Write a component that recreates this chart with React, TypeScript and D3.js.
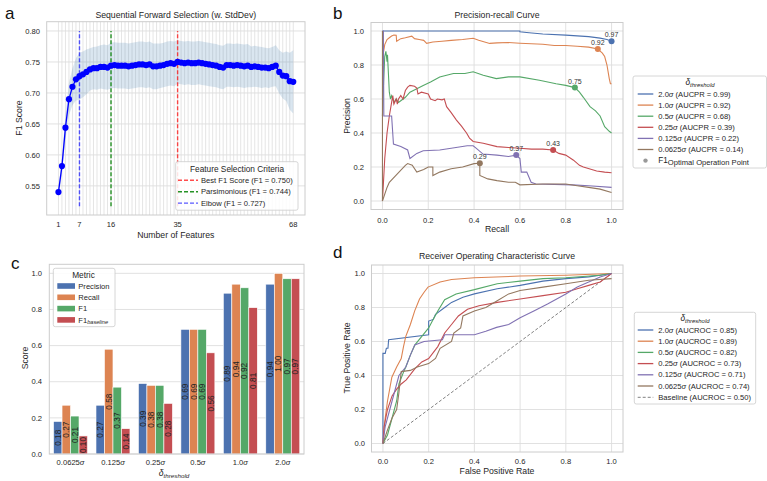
import React from 'react';
import * as d3 from 'd3';

const FONT = "'Liberation Sans', Arial, sans-serif";
const TXT = '#262626';
const GRID = '#dedede';
const FRAME = '#cccccc';

// ---- panel a: sequential forward selection
const f1Mean = [
  0.540, 0.582, 0.644, 0.690, 0.710, 0.722, 0.727, 0.730, 0.734, 0.738,
  0.740, 0.740, 0.742, 0.742, 0.741, 0.744, 0.745, 0.744, 0.744, 0.744,
  0.743, 0.744, 0.745, 0.746, 0.746, 0.745, 0.746, 0.743, 0.743, 0.744,
  0.745, 0.747, 0.748, 0.747, 0.750, 0.749, 0.748, 0.749, 0.748, 0.748,
  0.749, 0.748, 0.747, 0.746, 0.745, 0.744, 0.742, 0.741, 0.745, 0.745,
  0.744, 0.745, 0.744, 0.743, 0.744, 0.742, 0.743, 0.742, 0.741, 0.741,
  0.740, 0.742, 0.744, 0.734, 0.728, 0.727, 0.719, 0.718,
];
const f1Std = [
  0.008, 0.012, 0.020, 0.026, 0.030, 0.034, 0.038, 0.037, 0.036, 0.034,
  0.034, 0.035, 0.035, 0.036, 0.036, 0.037, 0.037, 0.037, 0.037, 0.037,
  0.037, 0.037, 0.037, 0.037, 0.037, 0.037, 0.037, 0.037, 0.037, 0.036,
  0.036, 0.036, 0.036, 0.036, 0.035, 0.035, 0.035, 0.035, 0.035, 0.035,
  0.035, 0.035, 0.035, 0.035, 0.035, 0.035, 0.035, 0.035, 0.035, 0.035,
  0.035, 0.035, 0.035, 0.035, 0.035, 0.033, 0.033, 0.033, 0.033, 0.032,
  0.032, 0.032, 0.033, 0.035, 0.037, 0.040, 0.046, 0.051,
];
const featureTicks = [1, 7, 16, 35, 68];
const f1Ticks = [0.55, 0.6, 0.65, 0.7, 0.75, 0.8];
const criteriaLabels = ['Best F1 Score (F1 = 0.750)', 'Parsimonious (F1 = 0.744)', 'Elbow (F1 = 0.727)'];
const criteriaK = [35, 16, 7];
const criteriaColors = ['rgba(255,0,0,0.7)', 'rgba(0,128,0,0.85)', 'rgba(0,0,255,0.65)'];

// ---- shared thresholds
const thresholds = ['2.0', '1.0', '0.5', '0.25', '0.125', '0.0625'];
const palette = ['#4C72B0', '#DD8452', '#55A868', '#C44E52', '#8172B3', '#937860'];
const aucpr = [0.99, 0.92, 0.68, 0.39, 0.22, 0.14];
const aucroc = [0.85, 0.89, 0.82, 0.73, 0.71, 0.74];

// ---- panel b: precision-recall curves [recall, precision]
const pr20 = [[0, 1], [0.6, 1], [0.6, 0.995], [0.64, 0.99], [0.7, 0.982], [0.8, 0.976], [0.9, 0.967], [0.95, 0.958], [0.98, 0.95], [1.0, 0.94]];
const pr10 = [[0, 0.86], [0.005, 0.88], [0.01, 0.92], [0.02, 0.95], [0.03, 0.96], [0.04, 0.97], [0.05, 0.976], [0.06, 0.975], [0.062, 0.94], [0.08, 0.955], [0.1, 0.96], [0.128, 0.97], [0.14, 0.955], [0.16, 0.95], [0.18, 0.945], [0.193, 0.927], [0.22, 0.935], [0.26, 0.94], [0.3, 0.945], [0.35, 0.95], [0.396, 0.957], [0.42, 0.945], [0.468, 0.927], [0.5, 0.93], [0.55, 0.932], [0.6, 0.928], [0.65, 0.925], [0.7, 0.922], [0.75, 0.915], [0.8, 0.915], [0.85, 0.91], [0.9, 0.905], [0.94, 0.894], [0.96, 0.87], [0.97, 0.85], [0.98, 0.8], [0.99, 0.72], [0.995, 0.69], [1.0, 0.69]];
const pr05 = [[0, 0.5], [0.005, 0.7], [0.01, 0.85], [0.015, 0.88], [0.02, 0.82], [0.022, 0.86], [0.026, 0.75], [0.03, 0.64], [0.035, 0.6], [0.04, 0.62], [0.05, 0.58], [0.06, 0.6], [0.07, 0.58], [0.08, 0.59], [0.1, 0.61], [0.12, 0.64], [0.15, 0.66], [0.178, 0.68], [0.21, 0.7], [0.25, 0.73], [0.31, 0.75], [0.36, 0.75], [0.396, 0.76], [0.44, 0.74], [0.497, 0.72], [0.55, 0.73], [0.6, 0.73], [0.685, 0.71], [0.758, 0.69], [0.8, 0.68], [0.84, 0.667], [0.86, 0.64], [0.877, 0.61], [0.906, 0.555], [0.93, 0.53], [0.95, 0.5], [0.97, 0.437], [0.99, 0.41], [1.0, 0.4]];
const pr025 = [[0, 0], [0.01, 0.25], [0.02, 0.4], [0.03, 0.5], [0.04, 0.58], [0.045, 0.62], [0.05, 0.57], [0.06, 0.6], [0.065, 0.57], [0.07, 0.6], [0.08, 0.62], [0.09, 0.6], [0.1, 0.65], [0.11, 0.67], [0.12, 0.68], [0.14, 0.675], [0.15, 0.665], [0.155, 0.63], [0.17, 0.64], [0.2, 0.63], [0.21, 0.6], [0.23, 0.59], [0.24, 0.6], [0.26, 0.595], [0.27, 0.6], [0.28, 0.555], [0.3, 0.52], [0.323, 0.476], [0.345, 0.44], [0.367, 0.4], [0.38, 0.37], [0.396, 0.35], [0.44, 0.34], [0.5, 0.32], [0.55, 0.315], [0.6, 0.31], [0.65, 0.305], [0.7, 0.305], [0.745, 0.3], [0.77, 0.28], [0.8, 0.27], [0.834, 0.24], [0.86, 0.21], [0.877, 0.2], [0.935, 0.176], [0.97, 0.17], [1.0, 0.166]];
const pr0125 = [[0, 1], [0.004, 1], [0.006, 0.5], [0.04, 0.5], [0.048, 0.335], [0.08, 0.32], [0.11, 0.3], [0.12, 0.25], [0.15, 0.28], [0.178, 0.296], [0.25, 0.3], [0.3, 0.31], [0.37, 0.325], [0.396, 0.325], [0.41, 0.31], [0.439, 0.276], [0.5, 0.27], [0.55, 0.262], [0.584, 0.27], [0.6, 0.25], [0.606, 0.17], [0.63, 0.17], [0.649, 0.11], [0.67, 0.1], [0.83, 0.095], [0.9, 0.09], [1.0, 0.08]];
const pr00625 = [[0, 1], [0, 0], [0.02, 0.08], [0.03, 0.11], [0.065, 0.16], [0.1, 0.21], [0.11, 0.22], [0.13, 0.21], [0.15, 0.17], [0.18, 0.185], [0.2, 0.2], [0.22, 0.2], [0.22, 0.15], [0.25, 0.17], [0.3, 0.19], [0.35, 0.2], [0.4, 0.22], [0.425, 0.222], [0.425, 0.15], [0.46, 0.13], [0.5, 0.12], [0.55, 0.11], [0.58, 0.11], [0.6, 0.095], [0.7, 0.1], [0.8, 0.1], [0.85, 0.09], [0.9, 0.08], [0.95, 0.07], [1.0, 0.05]];
const prCurves = [pr20, pr10, pr05, pr025, pr0125, pr00625];
const optRecall = [1.0, 0.94, 0.84, 0.745, 0.584, 0.425];
const optPrecision = [0.94, 0.894, 0.667, 0.3, 0.27, 0.222];
const optF1 = ['0.97', '0.92', '0.75', '0.43', '0.37', '0.29'];

// ---- panel c: metrics per threshold
const barCats = ['0.0625', '0.125', '0.25', '0.5', '1.0', '2.0'];
const metrics = ['Precision', 'Recall', 'F1', 'F1b'];
const precisionVals = [0.18, 0.27, 0.39, 0.69, 0.89, 0.94];
const recallVals = [0.27, 0.58, 0.38, 0.69, 0.94, 1.0];
const f1Vals = [0.21, 0.37, 0.38, 0.69, 0.92, 0.97];
const f1BaseVals = [0.10, 0.14, 0.28, 0.56, 0.81, 0.97];
const scoreTicks = [0, 0.2, 0.4, 0.6, 0.8, 1.0];

// ---- panel d: ROC curves [fpr, tpr]
const roc20 = [[0, 0], [0, 0.53], [0.01, 0.53], [0.015, 0.56], [0.022, 0.56], [0.025, 0.61], [0.2, 0.64], [0.2, 0.72], [0.22, 0.73], [0.23, 0.76], [0.27, 0.8], [0.3, 0.83], [0.35, 0.86], [0.4, 0.88], [0.5, 0.91], [0.6, 0.93], [0.7, 0.955], [0.8, 0.97], [0.9, 0.98], [1.0, 1.0]];
const roc10 = [[0, 0], [0.01, 0.15], [0.02, 0.25], [0.039, 0.39], [0.06, 0.45], [0.08, 0.5], [0.09, 0.57], [0.1, 0.63], [0.12, 0.7], [0.139, 0.78], [0.16, 0.85], [0.18, 0.89], [0.197, 0.92], [0.25, 0.95], [0.3, 0.965], [0.4, 0.975], [0.6, 0.985], [0.8, 0.99], [1.0, 1.0]];
const roc05 = [[0, 0], [0.02, 0.05], [0.04, 0.15], [0.06, 0.25], [0.07, 0.35], [0.09, 0.42], [0.1, 0.45], [0.12, 0.52], [0.14, 0.58], [0.17, 0.63], [0.2, 0.68], [0.219, 0.728], [0.24, 0.78], [0.27, 0.846], [0.32, 0.88], [0.4, 0.905], [0.5, 0.94], [0.6, 0.955], [0.7, 0.97], [0.8, 0.975], [0.95, 0.99], [1.0, 1.0]];
const roc025 = [[0, 0], [0.005, 0.1], [0.02, 0.2], [0.04, 0.28], [0.06, 0.32], [0.08, 0.35], [0.102, 0.374], [0.14, 0.44], [0.17, 0.48], [0.2, 0.5], [0.24, 0.57], [0.27, 0.65], [0.3, 0.7], [0.33, 0.75], [0.37, 0.79], [0.42, 0.81], [0.5, 0.83], [0.6, 0.85], [0.7, 0.87], [0.8, 0.89], [0.85, 0.91], [0.9, 0.93], [0.95, 0.95], [1.0, 1.0]];
const roc0125 = [[0, 0], [0.01, 0.1], [0.03, 0.2], [0.05, 0.3], [0.07, 0.4], [0.1, 0.45], [0.12, 0.52], [0.139, 0.58], [0.18, 0.6], [0.26, 0.61], [0.27, 0.64], [0.4, 0.64], [0.45, 0.66], [0.497, 0.683], [0.55, 0.7], [0.6, 0.74], [0.66, 0.78], [0.72, 0.82], [0.8, 0.88], [0.85, 0.92], [0.9, 0.95], [0.95, 0.98], [1.0, 1.0]];
const roc00625 = [[0, 0], [0.02, 0.08], [0.04, 0.15], [0.06, 0.2], [0.07, 0.3], [0.08, 0.423], [0.12, 0.43], [0.15, 0.45], [0.2, 0.47], [0.23, 0.5], [0.25, 0.56], [0.3, 0.6], [0.31, 0.65], [0.34, 0.68], [0.35, 0.75], [0.4, 0.78], [0.45, 0.8], [0.5, 0.84], [0.55, 0.88], [0.6, 0.9], [0.7, 0.92], [0.8, 0.94], [0.9, 0.96], [1.0, 0.97]];
const rocCurves = [roc20, roc10, roc05, roc025, roc0125, roc00625];
const unitTicks = [0, 0.2, 0.4, 0.6, 0.8, 1.0];

const Sig = ({ pre, post = '' }: { pre: string; post?: string }) => (
  <>
    {pre}
    <tspan fontStyle="italic">σ</tspan>
    {post}
  </>
);

const DeltaThr = ({ size }: { size: number }) => (
  <>
    <tspan fontStyle="italic" fontSize={size}>δ</tspan>
    <tspan fontStyle="italic" fontSize={size * 0.72} dy={2}>threshold</tspan>
  </>
);

const Frame = ({ x0, x1, y0, y1 }) => (
  <rect x={x0} y={y0} width={x1 - x0} height={y1 - y0} fill="none" stroke={FRAME} strokeWidth={1} />
);

export default function App() {
  // scales
  const xA = d3.scaleLinear().domain([-2.35, 71.35]).range([46.7, 305]);
  const yA = d3.scaleLinear().domain([0.503, 0.815]).range([215, 21.7]);
  const xB = d3.scaleLinear().domain([-0.05, 1.05]).range([371, 623]);
  const yB = d3.scaleLinear().domain([-0.05, 1.05]).range([209.5, 22.5]);
  const xC = d3.scaleBand().domain(barCats).range([49.3, 304]);
  const yC = d3.scaleLinear().domain([0, 1.05]).range([454, 264.3]);
  const xSub = d3.scaleBand().domain(metrics).range([0, xC.bandwidth() * 0.8]);
  const xD = d3.scaleLinear().domain([-0.05, 1.05]).range([371.5, 623]);
  const yD = d3.scaleLinear().domain([-0.05, 1.05]).range([452, 265]);

  const features = d3.range(1, 69);
  const lineA = d3.line<number>().x((k) => xA(k)).y((k) => yA(f1Mean[k - 1]));
  const bandA = d3.area<number>().x((k) => xA(k))
    .y0((k) => yA(f1Mean[k - 1] - f1Std[k - 1]))
    .y1((k) => yA(f1Mean[k - 1] + f1Std[k - 1]));
  const lineB = d3.line<number[]>().x((d) => xB(d[0])).y((d) => yB(d[1]));
  const lineD = d3.line<number[]>().x((d) => xD(d[0])).y((d) => yD(d[1]));
  const barSeries = [precisionVals, recallVals, f1Vals, f1BaseVals];
  const barColors = palette.slice(0, 4);

  const tick = { fontSize: 7.6, fill: TXT };
  const lab = { fontSize: 8.7, fill: TXT };

  return (
    <svg width={767} height={481} style={{ position: 'absolute', left: 0, top: 0, background: '#fff' }}
      fontFamily={FONT}>
      {/* ================= panel a ================= */}
      <text x={5} y={18.5} fontSize={17} fill="#111">a</text>
      <g>
        {features.map((k) => (
          <line key={k} x1={xA(k)} x2={xA(k)} y1={21.7} y2={215} stroke={GRID} strokeWidth={0.8} />
        ))}
        {f1Ticks.map((t) => (
          <line key={t} x1={46.7} x2={305} y1={yA(t)} y2={yA(t)} stroke={GRID} strokeWidth={0.9} />
        ))}
        <path d={bandA(features)} fill="#4682b4" fillOpacity={0.2} />
        {criteriaK.map((k, i) => (
          <line key={k} x1={xA(k)} x2={xA(k)} y1={yA(0.517)} y2={yA(0.8)} stroke={criteriaColors[i]}
            strokeWidth={1.4} strokeDasharray="4,2" />
        ))}
        <path d={lineA(features)} fill="none" stroke="#0000ff" strokeWidth={1.3} />
        {features.map((k) => (
          <circle key={k} cx={xA(k)} cy={yA(f1Mean[k - 1])} r={3.1} fill="#0000ff" />
        ))}
        <Frame x0={46.7} x1={305} y0={21.7} y1={215} />
        {f1Ticks.map((t) => (
          <text key={t} x={40} y={yA(t)} dy="0.35em" textAnchor="end" {...tick}>{t.toFixed(2)}</text>
        ))}
        {featureTicks.map((t) => (
          <text key={t} x={xA(t)} y={226.5} textAnchor="middle" {...tick}>{t}</text>
        ))}
        <text x={175.8} y={17.8} textAnchor="middle" {...lab}>Sequential Forward Selection (w. StdDev)</text>
        <text x={175.8} y={237.5} textAnchor="middle" {...lab}>Number of Features</text>
        <text transform="translate(18.5,118) rotate(-90)" textAnchor="middle" dy="0.35em" {...lab}>F1 Score</text>
        {/* legend */}
        <rect x={175.7} y={161.7} width={122.3} height={48.5} rx={2} fill="#fff" fillOpacity={0.85} stroke={FRAME} strokeWidth={0.8} />
        <text x={237} y={169} dy="0.35em" textAnchor="middle" fontSize={8.3} fill={TXT}>Feature Selection Criteria</text>
        {criteriaLabels.map((l, i) => (
          <g key={l}>
            <line x1={178} x2={198} y1={180.3 + i * 11.4} y2={180.3 + i * 11.4} stroke={criteriaColors[i]} strokeWidth={1.4} strokeDasharray="4,2" />
            <text x={201} y={180.3 + i * 11.4} dy="0.35em" {...tick}>{l}</text>
          </g>
        ))}
      </g>

      {/* ================= panel b ================= */}
      <text x={333} y={18.5} fontSize={17} fill="#111">b</text>
      <g>
        {unitTicks.map((t) => (
          <g key={t}>
            <line x1={xB(t)} x2={xB(t)} y1={22.5} y2={209.5} stroke={GRID} strokeWidth={0.9} />
            <line x1={371} x2={623} y1={yB(t)} y2={yB(t)} stroke={GRID} strokeWidth={0.9} />
          </g>
        ))}
        {prCurves.map((c, i) => (
          <path key={i} d={lineB(c)} fill="none" stroke={palette[i]} strokeWidth={1.1} />
        ))}
        {optRecall.map((r, i) => (
          <g key={i}>
            <circle cx={xB(r)} cy={yB(optPrecision[i])} r={3} fill={palette[i]} />
            <text x={xB(r)} y={yB(optPrecision[i]) - 3.8} textAnchor="middle" fontSize={7} fill="#333">{optF1[i]}</text>
          </g>
        ))}
        <Frame x0={371} x1={623} y0={22.5} y1={209.5} />
        {unitTicks.map((t) => (
          <g key={t}>
            <text x={364} y={yB(t)} dy="0.35em" textAnchor="end" {...tick}>{t.toFixed(1)}</text>
            <text x={xB(t)} y={222.5} textAnchor="middle" {...tick}>{t.toFixed(1)}</text>
          </g>
        ))}
        <text x={497} y={18} textAnchor="middle" {...lab}>Precision-recall Curve</text>
        <text x={497} y={231.5} textAnchor="middle" {...lab}>Recall</text>
        <text transform="translate(347.3,116) rotate(-90)" textAnchor="middle" dy="0.35em" {...lab}>Precision</text>
        {/* legend */}
        <rect x={633} y={76} width={133.5} height={92} rx={2} fill="#fff" stroke={FRAME} strokeWidth={0.8} />
        <text x={700} y={84.5} textAnchor="middle" fill={TXT}><DeltaThr size={8.3} /></text>
        {thresholds.map((t, i) => (
          <g key={t}>
            <line x1={637.7} x2={653.3} y1={94 + i * 11.1} y2={94 + i * 11.1} stroke={palette[i]} strokeWidth={1.3} />
            <text x={658.3} y={94 + i * 11.1} dy="0.35em" {...tick}>
              <Sig pre={t} post={` (AUCPR = ${aucpr[i].toFixed(2)})`} />
            </text>
          </g>
        ))}
        <circle cx={645.5} cy={160.6} r={2.2} fill="#999" />
        <text x={658.3} y={160.6} dy="0.35em" {...tick}>
          <tspan fontSize={8.2}>F1</tspan>
          <tspan dy={1.6}>Optimal Operation Point</tspan>
        </text>
      </g>

      {/* ================= panel c ================= */}
      <text x={11} y={269} fontSize={17} fill="#111">c</text>
      <g>
        {scoreTicks.map((t) => (
          <line key={t} x1={49.3} x2={304} y1={yC(t)} y2={yC(t)} stroke={GRID} strokeWidth={0.9} />
        ))}
        {barCats.map((c, ci) =>
          metrics.map((m, mi) => {
            const v = barSeries[mi][ci];
            const x = (xC(c) as number) + xC.bandwidth() * 0.1 + (xSub(m) as number);
            const w = xSub.bandwidth();
            return (
              <g key={c + m}>
                <rect x={x} y={yC(v)} width={w} height={yC(0) - yC(v)} fill={barColors[mi]}
                  stroke="#fff" strokeWidth={0.6} />
                <text transform={`translate(${x + w / 2},${(yC(v) + yC(0)) / 2}) rotate(-90)`}
                  textAnchor="middle" dy="0.35em" fontSize={8.3} fill="#222">{v.toFixed(2)}</text>
              </g>
            );
          })
        )}
        <Frame x0={49.3} x1={304} y0={264.3} y1={454} />
        {scoreTicks.map((t) => (
          <text key={t} x={42} y={yC(t)} dy="0.35em" textAnchor="end" {...tick}>{t.toFixed(1)}</text>
        ))}
        {barCats.map((c) => (
          <text key={c} x={(xC(c) as number) + xC.bandwidth() / 2} y={465} textAnchor="middle" {...tick}>
            <Sig pre={c} />
          </text>
        ))}
        <text x={174} y={476} textAnchor="middle" fill={TXT}><DeltaThr size={8.7} /></text>
        <text transform="translate(25,358) rotate(-90)" textAnchor="middle" dy="0.35em" {...lab}>Score</text>
        {/* legend */}
        <rect x={53.3} y={268.3} width={61.7} height={58.4} rx={2} fill="#fff" fillOpacity={0.85} stroke={FRAME} strokeWidth={0.8} />
        <text x={83.5} y={275} dy="0.35em" textAnchor="middle" fontSize={8.3} fill={TXT}>Metric</text>
        {metrics.map((m, i) => (
          <g key={m}>
            <rect x={57.3} y={286 + i * 11.3 - 2.8} width={17.7} height={5.6} fill={barColors[i]} />
            <text x={78.3} y={286 + i * 11.3} dy="0.35em" {...tick}>
              {m === 'F1b' ? (
                <>
                  F1<tspan fontStyle="italic" fontSize={5.6} dy={1.8}>baseline</tspan>
                </>
              ) : m}
            </text>
          </g>
        ))}
      </g>

      {/* ================= panel d ================= */}
      <text x={333} y={257.5} fontSize={17} fill="#111">d</text>
      <g>
        {unitTicks.map((t) => (
          <g key={t}>
            <line x1={xD(t)} x2={xD(t)} y1={265} y2={452} stroke={GRID} strokeWidth={0.9} />
            <line x1={371.5} x2={623} y1={yD(t)} y2={yD(t)} stroke={GRID} strokeWidth={0.9} />
          </g>
        ))}
        <line x1={xD(0)} y1={yD(0)} x2={xD(1)} y2={yD(1)} stroke="#808080" strokeWidth={1} strokeDasharray="3,2" />
        {rocCurves.map((c, i) => (
          <path key={i} d={lineD(c)} fill="none" stroke={palette[i]} strokeWidth={1.1} />
        ))}
        <Frame x0={371.5} x1={623} y0={265} y1={452} />
        {unitTicks.map((t) => (
          <g key={t}>
            <text x={365} y={yD(t)} dy="0.35em" textAnchor="end" {...tick}>{t.toFixed(1)}</text>
            <text x={xD(t)} y={463.5} textAnchor="middle" {...tick}>{t.toFixed(1)}</text>
          </g>
        ))}
        <text x={497} y={259} textAnchor="middle" {...lab}>Receiver Operating Characteristic Curve</text>
        <text x={497} y={474} textAnchor="middle" {...lab}>False Positive Rate</text>
        <text transform="translate(347.3,358) rotate(-90)" textAnchor="middle" dy="0.35em" {...lab}>True Positive Rate</text>
        {/* legend */}
        <rect x={634.3} y={312.3} width={121.4} height={91.7} rx={2} fill="#fff" stroke={FRAME} strokeWidth={0.8} />
        <text x={695} y={320.5} textAnchor="middle" fill={TXT}><DeltaThr size={8.3} /></text>
        {thresholds.map((t, i) => (
          <g key={t}>
            <line x1={637.7} x2={653.3} y1={330 + i * 11.2} y2={330 + i * 11.2} stroke={palette[i]} strokeWidth={1.3} />
            <text x={658.3} y={330 + i * 11.2} dy="0.35em" {...tick}>
              <Sig pre={t} post={` (AUCROC = ${aucroc[i].toFixed(2)})`} />
            </text>
          </g>
        ))}
        <line x1={637.7} x2={653.3} y1={397.3} y2={397.3} stroke="#808080" strokeWidth={1} strokeDasharray="3,2" />
        <text x={658.3} y={397.3} dy="0.35em" {...tick}>Baseline (AUCROC = 0.50)</text>
      </g>
    </svg>
  );
}
